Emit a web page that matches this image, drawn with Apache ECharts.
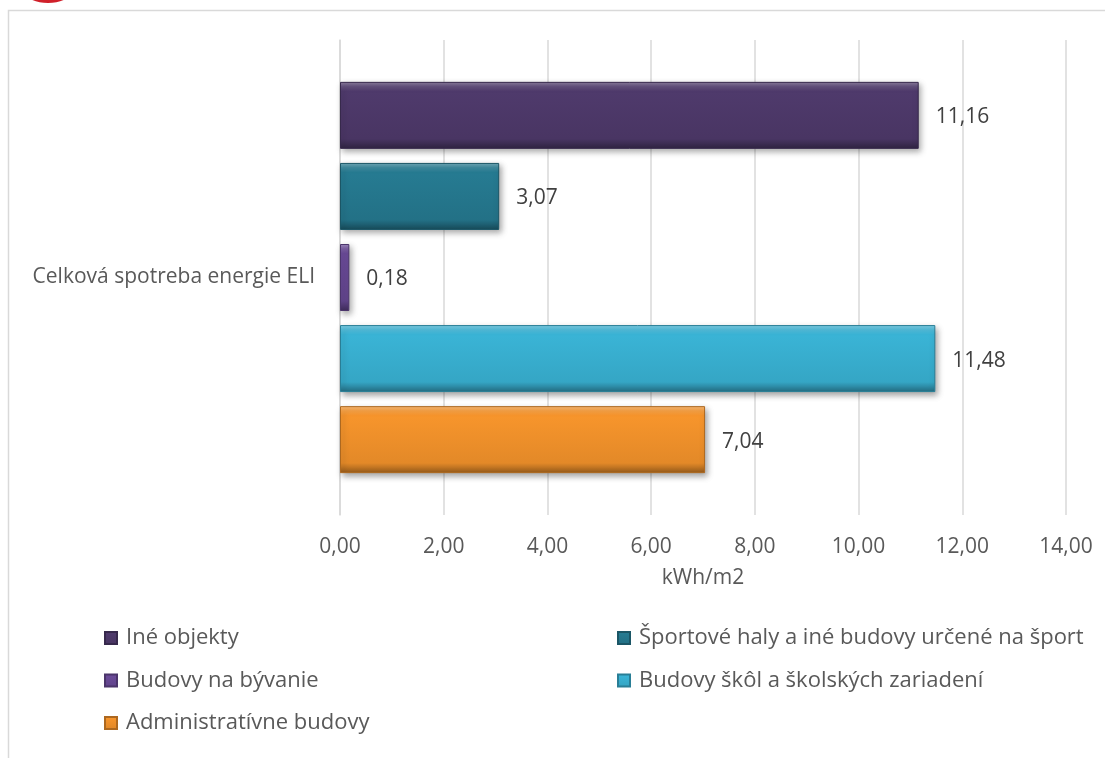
<!DOCTYPE html>
<html>
<head>
<meta charset="utf-8">
<script src="https://cdn.jsdelivr.net/npm/echarts@6/dist/echarts.min.js"></script>
<style>
  html, body { margin: 0; padding: 0; background: #ffffff; }
  #chart { width: 1105px; height: 758px; }
</style>
</head>
<body>
<div id="chart"></div>
<script>
// Energy consumption per building type (kWh/m2)
const categories = ['Celková spotreba energie ELI'];
// series listed top-to-bottom as drawn on the category band
const seriesNames = [
  'Iné objekty',
  'Športové haly a iné budovy určené na šport',
  'Budovy na bývanie',
  'Budovy škôl a školských zariadení',
  'Administratívne budovy'
];
const seriesValues = [11.16, 3.07, 0.18, 11.48, 7.04];
const seriesColors = ['#4f3a6c', '#267b92', '#6b4b99', '#3ab4d6', '#f7952c'];
const legendLeft = ['Iné objekty', 'Budovy na bývanie', 'Administratívne budovy'];
const legendRight = ['Športové haly a iné budovy určené na šport', 'Budovy škôl a školských zariadení'];
const axisTicks = [0, 2, 4, 6, 8, 10, 12, 14];

const FONT = '"Open Sans", "Noto Sans", sans-serif';
const FS = 21;
const fmt = v => v.toFixed(2).replace('.', ',');

function shade(hex, f) {
  const n = parseInt(hex.slice(1), 16);
  let r = (n >> 16) & 255, g = (n >> 8) & 255, b = n & 255;
  const mix = c => f >= 0 ? Math.round(c + (255 - c) * f) : Math.round(c * (1 + f));
  return 'rgb(' + mix(r) + ',' + mix(g) + ',' + mix(b) + ')';
}

function bevel(hex) {
  return new echarts.graphic.LinearGradient(0, 0, 0, 1, [
    { offset: 0, color: shade(hex, 0.35) },
    { offset: 0.07, color: shade(hex, 0.12) },
    { offset: 0.14, color: hex },
    { offset: 0.85, color: shade(hex, -0.08) },
    { offset: 0.93, color: shade(hex, -0.25) },
    { offset: 1, color: shade(hex, -0.4) }
  ]);
}

const chart = echarts.init(document.getElementById('chart'), null, { renderer: 'canvas' });

const series = seriesNames.map((name, i) => ({
  name: name,
  type: 'bar',
  barWidth: 67,
  barGap: '21%',
  data: [seriesValues[i]],
  itemStyle: {
    color: bevel(seriesColors[i]),
    borderColor: shade(seriesColors[i], -0.3),
    borderWidth: 1,
    shadowColor: 'rgba(0,0,0,0.35)',
    shadowBlur: 6,
    shadowOffsetX: 2,
    shadowOffsetY: 3
  },
  label: {
    show: true,
    position: 'right',
    distance: 17,
    offset: [0, 2],
    formatter: p => fmt(p.value),
    fontFamily: FONT,
    fontSize: FS,
    color: '#404040'
  }
}));

const legendCommon = {
  orient: 'vertical',
  padding: 0,
  itemWidth: 12,
  itemHeight: 12,
  itemGap: 20.5,
  icon: 'rect',
  textStyle: { fontFamily: FONT, fontSize: 22, lineHeight: 22, color: '#595959', padding: [0, 0, 0, 4] }
};

chart.setOption({
  animation: false,
  backgroundColor: '#ffffff',
  grid: { left: 340, right: 39, top: 40, bottom: 243, containLabel: false },
  xAxis: {
    type: 'value',
    min: axisTicks[0],
    max: axisTicks[axisTicks.length - 1],
    interval: axisTicks[1] - axisTicks[0],
    name: 'kWh/m2',
    nameLocation: 'middle',
    nameGap: 53,
    nameTextStyle: { fontFamily: FONT, fontSize: FS, color: '#595959' },
    axisLine: { show: false },
    axisTick: { show: false },
    axisLabel: { formatter: v => fmt(v), fontFamily: FONT, fontSize: FS, color: '#595959', margin: 22 },
    splitLine: { show: true, lineStyle: { color: '#d9d9d9', width: 1.5 } }
  },
  yAxis: {
    type: 'category',
    data: categories,
    axisLine: { show: true, lineStyle: { color: '#d9d9d9', width: 1.5 } },
    axisTick: { show: false },
    axisLabel: { fontFamily: FONT, fontSize: FS, color: '#595959', margin: 25 }
  },
  legend: [
    Object.assign({ left: 104, top: 627, data: legendLeft }, legendCommon),
    Object.assign({ left: 617, top: 627, data: legendRight }, legendCommon)
  ],
  graphic: [
    {
      type: 'rect',
      shape: { x: 8.5, y: 10.5, width: 1200, height: 800 },
      style: { fill: 'none', stroke: '#d9d9d9', lineWidth: 1.5 },
      silent: true
    },
    {
      type: 'ellipse',
      shape: { cx: 48, cy: -12, rx: 26, ry: 15 },
      style: { fill: '#d0202a' },
      silent: true
    }
  ],
  series: series
});
</script>
</body>
</html>
